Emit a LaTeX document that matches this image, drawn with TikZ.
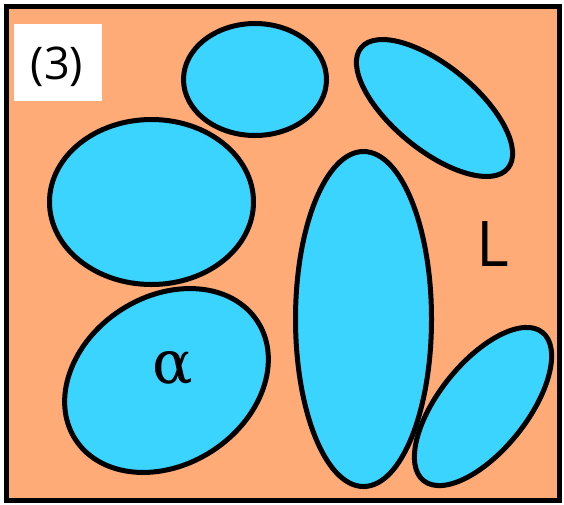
\documentclass[tikz,border=0pt]{standalone}
\usepackage{fontspec}
\setsansfont{Open Sans}
\newfontfamily\greekserif{DejaVu Serif}
\usetikzlibrary{shapes.geometric}
\definecolor{bgorange}{RGB}{255,171,120}
\definecolor{blobcyan}{RGB}{58,212,255}
\tikzset{
    frame/.style={draw=black, fill=bgorange, line width=5.5pt},
    tagbox/.style={rectangle, fill=white, minimum width=88pt, minimum height=77pt, inner sep=0pt},
    blob/.style={ellipse, draw=black, fill=blobcyan, line width=5pt, inner sep=0pt},
    bigsans/.style={font=\sffamily\fontsize{#1}{#1}\selectfont, inner sep=0pt}
}
\begin{document}
\begin{tikzpicture}[x=1pt, y=-1pt]
    \useasboundingbox (0,0) rectangle (564,504);
    \draw[frame] (6.5,6.5) rectangle (559.5,500.5);

    \node[tagbox] (tag) at (58,62.5) {};
    \node[bigsans=45] (num) at (57,66.5) {(3)};

    % cells
    \node[blob, minimum width=143pt, minimum height=112pt] (top) at (255,79.5) {};
    \node[blob, minimum width=190pt, minimum height=84pt, rotate=-39.4] (topright) at (434.5,108) {};
    \node[blob, minimum width=204pt, minimum height=165pt] (left) at (151.5,202) {};
    \node[blob, minimum width=217pt, minimum height=168pt, rotate=33] (lowleft) at (166.5,380.5) {};
    \node[blob, minimum width=136pt, minimum height=335pt] (tall) at (363.5,319) {};
    \node[blob, minimum width=190pt, minimum height=88pt, rotate=51.3] (lowright) at (483,406.5) {};

    \node[font=\greekserif\fontsize{60}{60}\selectfont, inner sep=0pt] (alpha) at (173,368) {α};
    \node[bigsans=63] (ell) at (492.5,244.5) {L};
\end{tikzpicture}
\end{document}
